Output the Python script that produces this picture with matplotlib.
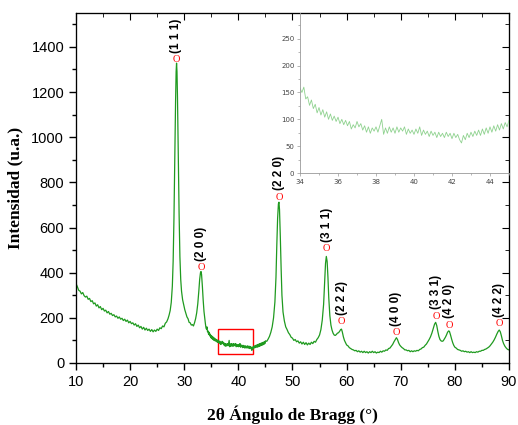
import numpy as np
import matplotlib
matplotlib.use("Agg")
import matplotlib.pyplot as plt
from matplotlib.patches import Rectangle
from matplotlib.ticker import MultipleLocator

# XRD scan: 2theta (deg) and intensity (a.u.)
# background before the (1 1 1) peak
bg_x = [10.00, 10.25, 10.50, 10.75, 11.00, 11.25, 11.50, 11.75, 12.00, 12.25, 12.50, 12.75,
        13.00, 13.25, 13.50, 13.75, 14.00, 14.25, 14.50, 14.75, 15.00, 15.25, 15.50, 15.75,
        16.00, 16.25, 16.50, 16.75, 17.00, 17.25, 17.50, 17.75, 18.00, 18.25, 18.50, 18.75,
        19.00, 19.25, 19.50, 19.75, 20.00, 20.25, 20.50, 20.75, 21.00, 21.25, 21.50, 21.75,
        22.00, 22.25, 22.50, 22.75, 23.00, 23.25, 23.50, 23.75, 24.00, 24.25, 24.50, 24.75,
        25.00, 25.25, 25.50, 25.75, 26.00, 26.25, 26.50, 26.75, 27.00]
bg_y = [352, 338, 322, 318, 306, 312, 298, 292, 296, 282, 286, 272,
        276, 262, 266, 252, 258, 244, 250, 236, 242, 230, 234, 222,
        228, 216, 220, 210, 214, 204, 208, 198, 204, 194, 198, 188,
        194, 184, 190, 178, 184, 174, 178, 168, 174, 162, 168, 156,
        162, 150, 158, 146, 154, 144, 150, 140, 148, 138, 146, 140,
        150, 144, 156, 152, 164, 160, 176, 182, 196]

# (1 1 1) and (2 0 0)
p1_x = [27.20, 27.40, 27.60, 27.80, 27.95, 28.10, 28.25, 28.40, 28.50, 28.58, 28.66, 28.75,
        28.90, 29.05, 29.20, 29.35, 29.50, 29.70, 29.90, 30.10, 30.30, 30.50, 30.70, 30.90,
        31.10, 31.30, 31.50, 31.70, 31.90, 32.10, 32.30, 32.50, 32.70, 32.85, 33.00, 33.10,
        33.20, 33.35, 33.50, 33.65, 33.80, 33.90]
p1_y = [212, 232, 268, 340, 450, 640, 900, 1160, 1290, 1328, 1290, 1180,
        920, 660, 470, 370, 318, 280, 258, 236, 220, 204, 196, 180,
        178, 168, 170, 164, 178, 196, 222, 262, 320, 370, 400, 405,
        392, 340, 278, 228, 196, 176]

# zoomed window 34-45 (also shown in the inset)
zoom_x = [34.0, 34.1, 34.2, 34.3, 34.4, 34.5, 34.6, 34.7, 34.8, 34.9,
          35.0, 35.1, 35.2, 35.3, 35.4, 35.5, 35.6, 35.7, 35.8, 35.9,
          36.0, 36.1, 36.2, 36.3, 36.4, 36.5, 36.6, 36.7, 36.8, 36.9,
          37.0, 37.1, 37.2, 37.3, 37.4, 37.5, 37.6, 37.7, 37.8, 37.9,
          38.0, 38.1, 38.2, 38.3, 38.4, 38.5, 38.6, 38.7, 38.8, 38.9,
          39.0, 39.1, 39.2, 39.3, 39.4, 39.5, 39.6, 39.7, 39.8, 39.9,
          40.0, 40.1, 40.2, 40.3, 40.4, 40.5, 40.6, 40.7, 40.8, 40.9,
          41.0, 41.1, 41.2, 41.3, 41.4, 41.5, 41.6, 41.7, 41.8, 41.9,
          42.0, 42.1, 42.2, 42.3, 42.4, 42.5, 42.6, 42.7, 42.8, 42.9,
          43.0, 43.1, 43.2, 43.3, 43.4, 43.5, 43.6, 43.7, 43.8, 43.9,
          44.0, 44.1, 44.2, 44.3, 44.4, 44.5, 44.6, 44.7, 44.8, 44.9, 45.0]
zoom_y = [158, 150, 160, 138, 142, 126, 136, 120, 128, 112,
          122, 108, 118, 104, 114, 100, 110, 98, 106, 96,
          104, 92, 100, 90, 98, 88, 96, 82, 90, 84,
          96, 86, 92, 80, 88, 76, 86, 74, 84, 78,
          86, 76, 88, 100, 72, 84, 74, 86, 76, 84,
          74, 86, 76, 84, 78, 86, 72, 82, 74, 80,
          72, 82, 74, 86, 70, 80, 72, 78, 68, 78,
          70, 76, 66, 76, 68, 74, 66, 76, 68, 74,
          64, 74, 66, 72, 62, 56, 70, 62, 74, 66,
          76, 68, 78, 70, 80, 70, 82, 72, 84, 74,
          86, 76, 88, 78, 90, 80, 92, 82, 94, 86, 98]

# (2 2 0) up to the end of the scan
p2_x = [45.25, 45.50, 45.75, 46.00, 46.25, 46.50, 46.75, 46.95, 47.10, 47.25, 47.40, 47.50,
        47.60, 47.75, 47.90, 48.05, 48.25, 48.50, 48.75, 49.00, 49.25, 49.50, 49.75, 50.00,
        50.25, 50.50, 50.75, 51.00, 51.25, 51.50, 51.75, 52.00, 52.25, 52.50, 52.75, 53.00,
        53.25, 53.50, 53.75, 54.00, 54.25, 54.50, 54.75, 55.00, 55.25, 55.50, 55.75, 55.95,
        56.10, 56.25, 56.40, 56.55, 56.70, 56.90, 57.10, 57.30, 57.50, 57.70, 57.90, 58.10,
        58.30, 58.50, 58.70, 58.90, 59.05, 59.20, 59.40, 59.60, 59.80, 60.00, 60.25, 60.50,
        60.75, 61.00, 61.25, 61.50, 61.75, 62.00, 62.25, 62.50, 62.75, 63.00, 63.25, 63.50,
        63.75, 64.00, 64.25, 64.50, 64.75, 65.00, 65.25, 65.50, 65.75, 66.00, 66.25, 66.50,
        66.75, 67.00, 67.25, 67.50, 67.75, 68.00, 68.25, 68.50, 68.75, 69.00, 69.20, 69.40,
        69.60, 69.80, 70.00, 70.25, 70.50, 70.75, 71.00, 71.25, 71.50, 71.75, 72.00, 72.25,
        72.50, 72.75, 73.00, 73.25, 73.50, 73.75, 74.00, 74.25, 74.50, 74.75, 75.00, 75.25,
        75.50, 75.75, 76.00, 76.25, 76.45, 76.65, 76.85, 77.05, 77.25, 77.45, 77.65, 77.85,
        78.05, 78.25, 78.45, 78.65, 78.85, 79.00, 79.20, 79.40, 79.60, 79.80, 80.00, 80.25,
        80.50, 80.75, 81.00, 81.25, 81.50, 81.75, 82.00, 82.25, 82.50, 82.75, 83.00, 83.25,
        83.50, 83.75, 84.00, 84.25, 84.50, 84.75, 85.00, 85.25, 85.50, 85.75, 86.00, 86.25,
        86.50, 86.75, 87.00, 87.25, 87.50, 87.75, 88.00, 88.20, 88.40, 88.60, 88.80, 89.00,
        89.25, 89.50, 89.75, 90.00]
p2_y = [96, 106, 118, 136, 160, 200, 270, 380, 520, 640, 705, 712,
        680, 560, 420, 300, 226, 186, 160, 148, 134, 126, 114, 110,
        100, 104, 94, 98, 88, 94, 84, 92, 82, 90, 80, 88,
        82, 92, 86, 96, 92, 104, 112, 124, 148, 190, 260, 360,
        440, 472, 450, 380, 290, 210, 168, 146, 132, 124, 122, 126,
        132, 134, 140, 148, 150, 138, 116, 100, 90, 80, 76, 68,
        64, 60, 58, 54, 56, 50, 54, 48, 52, 46, 52, 46,
        50, 44, 50, 46, 52, 46, 50, 44, 48, 46, 52, 48,
        54, 52, 58, 56, 64, 66, 74, 82, 94, 104, 112, 104,
        90, 80, 74, 68, 64, 58, 58, 54, 56, 50, 54, 50,
        54, 52, 56, 54, 60, 62, 68, 70, 78, 84, 94, 104,
        116, 132, 152, 172, 180, 166, 140, 118, 104, 98, 96, 98,
        106, 114, 124, 136, 142, 140, 124, 106, 90, 78, 70, 66,
        60, 58, 56, 52, 54, 50, 52, 48, 50, 46, 50, 46,
        48, 46, 50, 48, 52, 52, 56, 56, 60, 62, 66, 70,
        76, 84, 92, 102, 114, 128, 140, 146, 138, 120, 100, 86,
        74, 66, 60, 58]

# peak labels and marker positions
hkl = ["(1 1 1)", "(2 0 0)", "(2 2 0)", "(3 1 1)", "(2 2 2)",
       "(4 0 0)", "(3 3 1)", "(4 2 0)", "(4 2 2)"]
hkl_x = [28.55, 33.1, 47.5, 56.3, 59.1, 69.1, 76.5, 79.0, 88.2]
hkl_y = [1342, 421, 735, 505, 182, 135, 208, 168, 173]

two_theta = bg_x + p1_x + zoom_x + p2_x
intensity = bg_y + p1_y + zoom_y + p2_y

sans = "Liberation Sans"
serif = "Liberation Serif"

fig = plt.figure(figsize=(5.18, 4.25), dpi=100)
ax = fig.add_axes([0.1467, 0.1459, 0.8359, 0.8235])

ax.plot(two_theta, intensity, color="#1f9a1f", lw=0.9)
ax.set_xlim(10, 90)
ax.set_ylim(0, 1550)

ax.xaxis.set_major_locator(MultipleLocator(10))
ax.xaxis.set_minor_locator(MultipleLocator(5))
ax.yaxis.set_major_locator(MultipleLocator(200))
ax.yaxis.set_minor_locator(MultipleLocator(100))
ax.tick_params(which="major", direction="out", length=5, width=1)
ax.tick_params(which="minor", direction="out", length=3, width=1)
ax.set_yticks([0, 200, 400, 600, 800, 1000, 1200, 1400])
for lab in ax.get_xticklabels() + ax.get_yticklabels():
    lab.set_fontfamily(sans)
    lab.set_fontsize(10.5)

# top / right ticks point inwards
ax_top = ax.twiny()
ax_top.set_xlim(ax.get_xlim())
ax_top.xaxis.set_major_locator(MultipleLocator(10))
ax_top.xaxis.set_minor_locator(MultipleLocator(5))
ax_top.tick_params(which="major", direction="in", length=5, labeltop=False)
ax_top.tick_params(which="minor", direction="in", length=3)
ax_right = ax.twinx()
ax_right.set_ylim(ax.get_ylim())
ax_right.yaxis.set_major_locator(MultipleLocator(200))
ax_right.yaxis.set_minor_locator(MultipleLocator(100))
ax_right.tick_params(which="major", direction="in", length=5, labelright=False)
ax_right.tick_params(which="minor", direction="in", length=3)

ax.set_xlabel("2θ Ángulo de Bragg (°)", fontfamily=serif, fontweight="bold",
              fontsize=12.5, labelpad=12)
ax.set_ylabel("Intensidad (u.a.)", fontfamily=serif, fontweight="bold",
              fontsize=12.5, labelpad=6)

for lab, x, y in zip(hkl, hkl_x, hkl_y):
    ax.text(x, y, "O", color="red", fontfamily=serif, fontsize=7.5,
            ha="center", va="center")
    ax.annotate(lab, (x, y), xytext=(0, 5), textcoords="offset points",
                rotation=90, ha="center", va="bottom", fontfamily=sans,
                fontweight="bold", fontsize=8.5)

ax.add_patch(Rectangle((36.2, 40), 6.5, 110, fill=False, edgecolor="red", lw=1))

# inset
ins = fig.add_axes([0.5792, 0.5929, 0.4034, 0.3765])
ins.patch.set_visible(False)
ins.plot(zoom_x, zoom_y, color="#8fd28f", lw=0.6)
ins.set_xlim(34, 45)
ins.set_ylim(0, 298)
ins.xaxis.set_major_locator(MultipleLocator(2))
ins.xaxis.set_minor_locator(MultipleLocator(1))
ins.yaxis.set_major_locator(MultipleLocator(50))
ins.yaxis.set_minor_locator(MultipleLocator(25))
for s in ["top", "right"]:
    ins.spines[s].set_visible(False)
for s in ["left", "bottom"]:
    ins.spines[s].set_color("#999999")
    ins.spines[s].set_linewidth(0.6)
ins.tick_params(which="major", length=2.5, width=0.5, color="#999999",
                labelsize=5, labelcolor="#444444", pad=1.5)
ins.tick_params(which="minor", length=1.5, width=0.5, color="#999999")

fig.savefig("out.png", dpi=100)
